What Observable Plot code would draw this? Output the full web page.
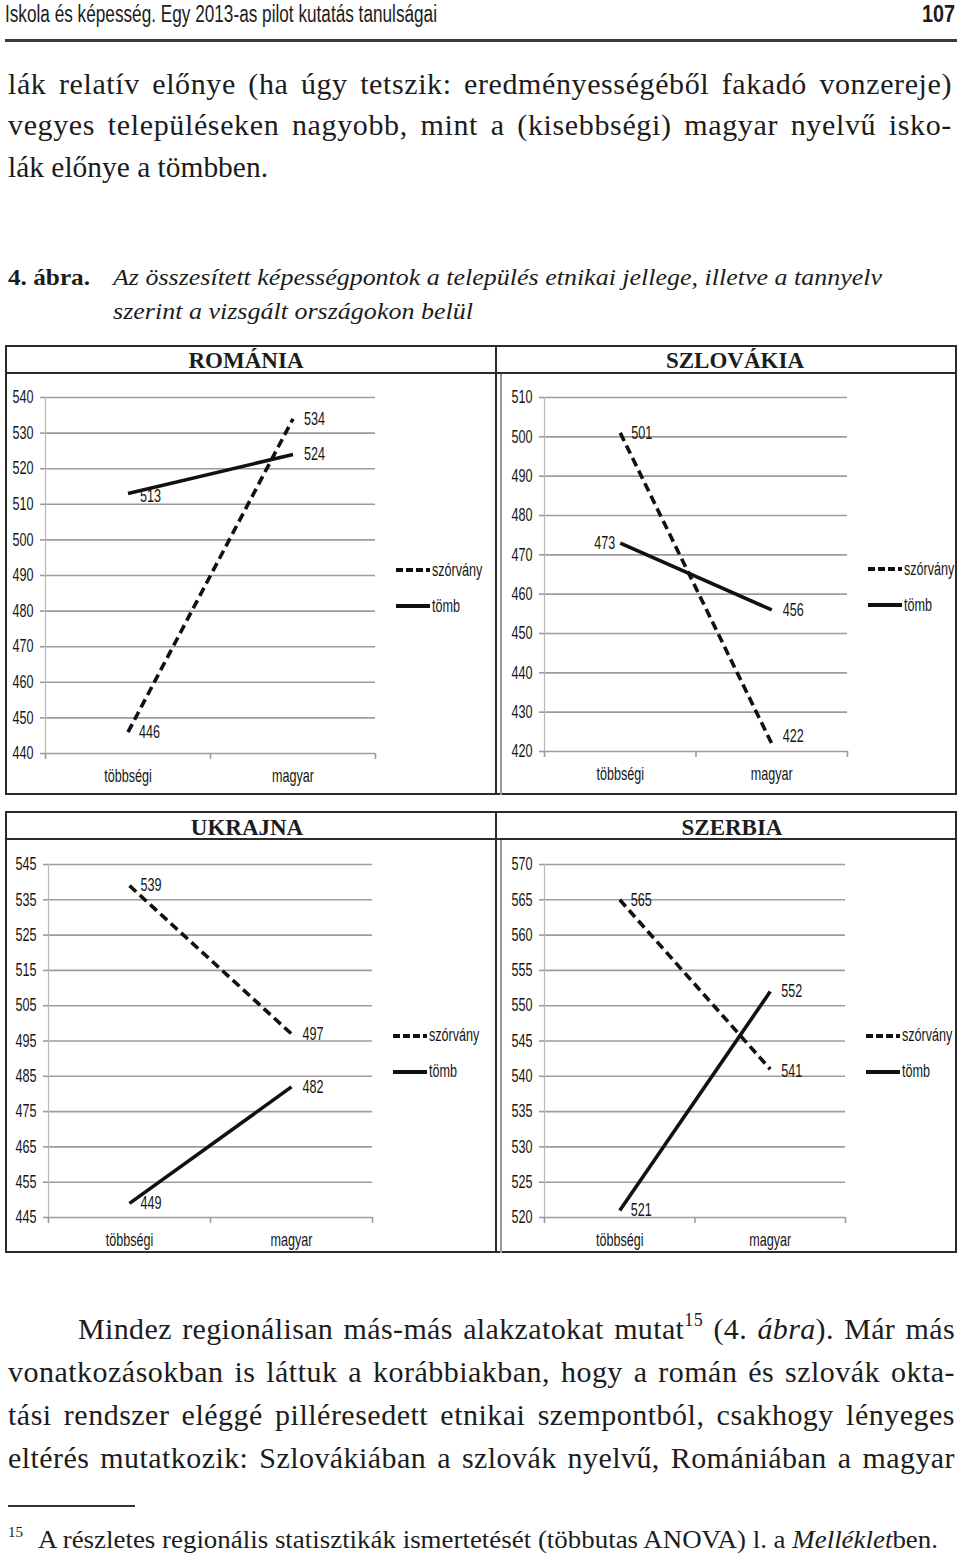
<!DOCTYPE html>
<html lang="hu">
<head>
<meta charset="utf-8">
<script src="https://cdn.jsdelivr.net/npm/d3@7"></script>
<script src="https://cdn.jsdelivr.net/npm/@observablehq/plot@0.6"></script>
<style>
html,body{margin:0;padding:0;background:#fff}
#page{position:relative;width:960px;height:1562px;overflow:hidden;background:#fff;color:#1c1c1c}
.ln{position:absolute;white-space:nowrap;transform-origin:0 0}
.box{position:absolute;box-sizing:border-box}
.rule{position:absolute;background:#2b2b2b}
sup{font-size:60%;line-height:0;vertical-align:0.72em}
.legend{position:absolute;display:flex;align-items:center;height:20px;white-space:nowrap}
</style>
</head>
<body>
<div id="page"></div>
<script>
// ---------------- data ----------------
const categories = ["többségi", "magyar"];
const seriesNames = ["szórvány", "tömb"];
const countryNames = ["ROMÁNIA", "SZLOVÁKIA", "UKRAJNA", "SZERBIA"];
const romaniaSzorvany = [446, 534];
const romaniaTomb = [513, 524];
const slovakiaSzorvany = [501, 422];
const slovakiaTomb = [473, 456];
const ukraineSzorvany = [539, 497];
const ukraineTomb = [449, 482];
const serbiaSzorvany = [565, 541];
const serbiaTomb = [521, 552];
const romaniaTicks = [440, 450, 460, 470, 480, 490, 500, 510, 520, 530, 540];
const slovakiaTicks = [420, 430, 440, 450, 460, 470, 480, 490, 500, 510];
const ukraineTicks = [445, 455, 465, 475, 485, 495, 505, 515, 525, 535, 545];
const serbiaTicks = [520, 525, 530, 535, 540, 545, 550, 555, 560, 565, 570];

// ---------------- texts ----------------
const headerTitle = "Iskola és képesség. Egy 2013-as pilot kutatás tanulságai";
const pageNumber = "107";
const introLines = [
  "lák relatív előnye (ha úgy tetszik: eredményességéből fakadó vonzereje)",
  "vegyes településeken nagyobb, mint a (kisebbségi) magyar nyelvű isko-",
  "lák előnye a tömbben."
];
const figureNumber = "4. ábra.";
const figureCaption = [
  "Az összesített képességpontok a település etnikai jellege, illetve a tannyelv",
  "szerint a vizsgált országokon belül"
];
const bodyLines = [
  ["Mindez regionálisan más-más alakzatokat mutat", {text: "15", sup: true}, " (4. ", {text: "ábra", italic: true}, "). Már más"],
  ["vonatkozásokban is láttuk a korábbiakban, hogy a román és szlovák okta-"],
  ["tási rendszer eléggé pilléresedett etnikai szempontból, csakhogy lényeges"],
  ["eltérés mutatkozik: Szlovákiában a szlovák nyelvű, Romániában a magyar"]
];
const footnoteMark = "15";
const footnoteParts = ["A részletes regionális statisztikák ismertetését (többutas ANOVA) l. a ", {text: "Melléklet", italic: true}, "ben."];

// ---------------- fonts ----------------
const NARROW = `"Liberation Sans", Arial, sans-serif`;
const SQUEEZE = 0.7;   // horizontal condensing to imitate a narrow face
const CHART_FONT = 18;
const SERIF = `"Liberation Serif", "Times New Roman", serif`;

const page = document.getElementById("page");

function placeLine(parts, o) {
  const el = document.createElement("div");
  el.className = "ln";
  el.style.fontFamily = o.family;
  el.style.fontSize = o.size + "px";
  el.style.lineHeight = o.size + "px";
  if (o.weight) el.style.fontWeight = o.weight;
  if (o.italic) el.style.fontStyle = "italic";
  for (const p of parts) {
    const t = typeof p === "string" ? {text: p} : p;
    const node = document.createElement(t.sup ? "sup" : "span");
    if (t.italic) node.style.fontStyle = "italic";
    node.textContent = t.text;
    el.appendChild(node);
  }
  page.appendChild(el);
  let w = el.getBoundingClientRect().width;
  let left = o.x;
  if (o.mode === "justify") {
    const n = (el.textContent.match(/ /g) || []).length;
    let extra = o.width - w;
    if (extra > 0) {
      const ls = Math.min(0.9, extra * 0.55 / el.textContent.length);
      el.style.letterSpacing = ls + "px";
      w = el.getBoundingClientRect().width;
      extra = o.width - w;
    }
    if (extra >= 0 && n) el.style.wordSpacing = (extra / n) + "px";
    else if (extra < 0) el.style.transform = `scaleX(${o.width / w})`;
  } else if (o.mode === "scale") {
    el.style.transform = `scaleX(${o.width / w})`;
  } else if (o.mode === "scaleRight") {
    el.style.transform = `scaleX(${o.width / w})`;
    left = o.x - o.width;
  } else if (o.mode === "right") {
    left = o.x - w;
  } else if (o.mode === "center") {
    left = o.x - w / 2;
  }
  el.style.left = left + "px";
  el.style.top = (o.base - 0.84 * o.size) + "px";
  return el;
}
function rect(cls, x, y, w, h, extra) {
  const d = document.createElement("div");
  d.className = cls;
  Object.assign(d.style, {left: x + "px", top: y + "px", width: w + "px", height: h + "px"}, extra || {});
  page.appendChild(d);
  return d;
}

// ---------------- page header & text ----------------
placeLine([headerTitle], {x: 5, base: 22, size: 23, family: NARROW, mode: "scale", width: 432});
placeLine([pageNumber], {x: 955, base: 22, size: 23, family: NARROW, weight: "bold", mode: "scaleRight", width: 33});
rect("rule", 5, 39, 952, 3, {background: "#3a3a3a"});

const introBase = [94, 135, 177];
placeLine([introLines[0]], {x: 8, base: introBase[0], size: 30, family: SERIF, mode: "justify", width: 944});
placeLine([introLines[1]], {x: 8, base: introBase[1], size: 30, family: SERIF, mode: "justify", width: 944});
placeLine([introLines[2]], {x: 8, base: introBase[2], size: 30, family: SERIF, mode: "scale", width: 260});

placeLine([figureNumber], {x: 8, base: 285, size: 24, family: SERIF, weight: "bold", mode: "scale", width: 82});
placeLine([figureCaption[0]], {x: 113, base: 285, size: 24, family: SERIF, italic: true, mode: "scale", width: 769});
placeLine([figureCaption[1]], {x: 113, base: 319, size: 24, family: SERIF, italic: true, mode: "scale", width: 360});

const bodyBase = [1339, 1382, 1425, 1468];
placeLine(bodyLines[0], {x: 78, base: bodyBase[0], size: 30, family: SERIF, mode: "justify", width: 877});
for (let k = 1; k < bodyLines.length; k++) {
  placeLine(bodyLines[k], {x: 8, base: bodyBase[k], size: 30, family: SERIF, mode: "justify", width: 947});
}
rect("rule", 8, 1505, 127, 1.5, {background: "#333"});
placeLine([footnoteMark], {x: 8, base: 1538, size: 15, family: SERIF});
placeLine(footnoteParts, {x: 38, base: 1548, size: 25, family: SERIF, mode: "scale", width: 900});

// ---------------- chart frames ----------------
function frame(top, height) {
  rect("box", 5, top, 952, height, {border: "2px solid #2b2b2b"});
  rect("rule", 5, top + 27, 952, 2);
  rect("rule", 495, top, 2, height);
  rect("rule", 500, top + 29, 1.5, height - 29, {background: "#9a9a9a"});
}
frame(345, 450);
frame(811, 442);

// ---------------- panels ----------------
const panels = [
  {name: countryNames[0], szorvany: romaniaSzorvany, tomb: romaniaTomb, ticks: romaniaTicks},
  {name: countryNames[1], szorvany: slovakiaSzorvany, tomb: slovakiaTomb, ticks: slovakiaTicks},
  {name: countryNames[2], szorvany: ukraineSzorvany, tomb: ukraineTomb, ticks: ukraineTicks},
  {name: countryNames[3], szorvany: serbiaSzorvany, tomb: serbiaTomb, ticks: serbiaTicks}
];
const panelLayout = {
  "ROMÁNIA":   {left: 5,   top: 373, width: 492, height: 422, mL: 40, mR: 122, mT: 24, mB: 42, titleX: 246, titleBase: 368},
  "SZLOVÁKIA": {left: 497, top: 373, width: 460, height: 422, mL: 47, mR: 110, mT: 24, mB: 44, titleX: 735, titleBase: 368},
  "UKRAJNA":   {left: 5,   top: 840, width: 492, height: 412, mL: 43, mR: 125, mT: 24, mB: 35, titleX: 247, titleBase: 835},
  "SZERBIA":   {left: 497, top: 840, width: 460, height: 412, mL: 47, mR: 112, mT: 24, mB: 35, titleX: 732, titleBase: 835}
};
const defaultPlacement = {dx: 11, dy: 0, anchor: "start"};
const labelPlacement = {
  "ROMÁNIA|tömb|többségi": {dx: 12, dy: 3, anchor: "start"},
  "SZLOVÁKIA|tömb|többségi": {dx: -5, dy: 0, anchor: "end"},
  "SZLOVÁKIA|szórvány|magyar": {dx: 11, dy: -7, anchor: "start"},
  "SZERBIA|szórvány|magyar": {dx: 11, dy: 2, anchor: "start"}
};
const INK = "#151515";
const GRID = "#9c9c9c";

function drawPanel(p) {
  const L = panelLayout[p.name];
  const rows = [];
  categories.forEach((cat, i) => {
    rows.push({country: p.name, series: seriesNames[0], cat, i, value: p.szorvany[i]});
    rows.push({country: p.name, series: seriesNames[1], cat, i, value: p.tomb[i]});
  });
  const xPos = d => d.i + 0.5;
  const placementOf = d => labelPlacement[`${d.country}|${d.series}|${d.cat}`] || defaultPlacement;
  const textMarks = d3.groups(rows, d => JSON.stringify(placementOf(d))).map(([key, data]) => {
    const pl = JSON.parse(key);
    return Plot.text(data, {x: xPos, y: "value", text: d => String(d.value), dx: pl.dx, dy: pl.dy, textAnchor: pl.anchor, fill: INK});
  });
  const chart = Plot.plot({
    width: L.width, height: L.height,
    marginLeft: L.mL, marginRight: L.mR, marginTop: L.mT, marginBottom: L.mB,
    style: {fontFamily: NARROW, fontSize: CHART_FONT + "px", background: "transparent", overflow: "visible", color: INK},
    x: {domain: [0, categories.length]},
    y: {domain: d3.extent(p.ticks)},
    marks: [
      Plot.gridY(p.ticks, {stroke: GRID, strokeOpacity: 1, strokeWidth: 1.6}),
      Plot.ruleX([0], {stroke: "#b8b8b8", strokeWidth: 1.2}),
      Plot.axisY(p.ticks, {tickSize: 5, tickPadding: 7, color: INK, stroke: GRID, strokeWidth: 1.6, tickFormat: d => String(d), label: null}),
      Plot.axisX(d3.range(categories.length + 1), {tickSize: 6, tickFormat: () => "", color: INK, stroke: GRID, strokeWidth: 1.6, label: null}),
      Plot.axisX(categories.map((c, i) => i + 0.5), {tickSize: 0, tickPadding: 16, tickFormat: v => categories[Math.floor(v)], color: INK, label: null}),
      Plot.line(rows.filter(d => d.series === seriesNames[0]), {x: xPos, y: "value", stroke: "#111", strokeWidth: 3.6, strokeDasharray: "9,5", strokeLinecap: "butt"}),
      Plot.line(rows.filter(d => d.series === seriesNames[1]), {x: xPos, y: "value", stroke: "#111", strokeWidth: 3.6, strokeLinecap: "butt"}),
      ...textMarks
    ]
  });
  // condense the chart's texts horizontally around their own anchor point
  chart.querySelectorAll("text").forEach(t => {
    const tr = t.getAttribute("transform") || "";
    t.setAttribute("transform", `${tr} scale(${SQUEEZE},1)`.trim());
  });
  const wrap = document.createElement("div");
  Object.assign(wrap.style, {position: "absolute", left: L.left + "px", top: L.top + "px", width: L.width + "px", height: L.height + "px"});
  wrap.appendChild(chart);
  page.appendChild(wrap);

  // title
  placeLine([p.name], {x: L.titleX, base: L.titleBase, size: 23, family: SERIF, weight: "bold", mode: "center"});

  // legend
  const plotRight = L.left + L.width - L.mR;
  const midY = L.top + L.mT + (L.height - L.mT - L.mB) / 2;
  seriesNames.forEach((s, k) => {
    const y = midY + (k === 0 ? -5 : 31);
    const lg = document.createElement("div");
    lg.className = "legend";
    lg.style.left = (plotRight + 21) + "px";
    lg.style.top = (y - 10) + "px";
    const dash = k === 0 ? ' stroke-dasharray="7,3"' : "";
    lg.innerHTML = `<svg width="34" height="8"><line x1="0" y1="4" x2="34" y2="4" stroke="#111" stroke-width="4"${dash}></line></svg>`;
    const sp = document.createElement("span");
    sp.textContent = s;
    Object.assign(sp.style, {fontFamily: NARROW, fontSize: CHART_FONT + "px", color: INK, marginLeft: "2px",
      display: "inline-block", transform: `scaleX(${SQUEEZE})`, transformOrigin: "0 50%"});
    lg.appendChild(sp);
    page.appendChild(lg);
  });
}
panels.forEach(drawPanel);
</script>
</body>
</html>
